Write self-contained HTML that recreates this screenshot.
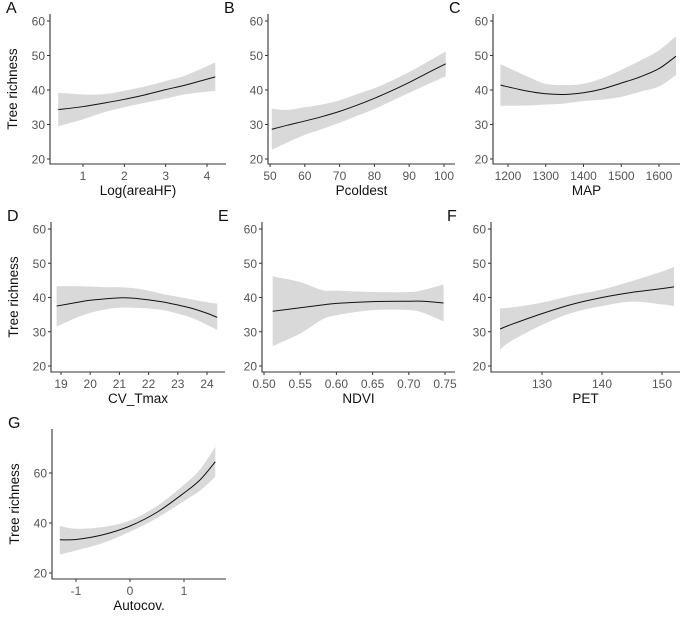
<!DOCTYPE html>
<html><head><meta charset="utf-8"><style>
html,body{margin:0;padding:0;background:#fff;}
svg text{font-family:"Liberation Sans",Arial,sans-serif;}
</style></head><body>
<svg id="fig" width="685" height="615" xmlns="http://www.w3.org/2000/svg"></svg>
<script>
// Panel data
const aX=[0.4,1,1.5,2,2.5,3,3.5,4.2], aY=[34.3,35.2,36.2,37.3,38.6,40.1,41.5,43.8], aLo=[29.5,31.5,33.5,35,36.3,37.5,38.8,39.8], aHi=[39.2,38.7,38.8,39.8,41,42.6,44.3,48];
const bX=[50.5,55,60,65,70,75,80,85,90,95,100.5], bY=[28.6,29.8,31,32.3,33.8,35.6,37.6,39.8,42.2,44.8,47.6], bLo=[22.7,24.8,27,28.7,30.5,32.5,34.5,36.8,39.2,41.5,44], bHi=[34.6,34.2,35,35.8,37,38.8,40.5,42.7,45.2,48,51.2];
const cX=[1180,1250,1300,1350,1400,1450,1500,1550,1600,1645], cY=[41.4,39.7,38.9,38.7,39.2,40.3,42,43.8,46.2,49.8], cLo=[35.4,35.5,35.8,36.1,36.8,37.2,38,39.5,41,44.3], cHi=[47.5,44,41.8,41.4,41.8,43.4,45.8,48.5,51.5,55.6];
const dX=[18.85,19.5,20,20.5,21,21.5,22,22.5,23,23.5,24,24.35], dY=[37.5,38.5,39.2,39.6,39.9,39.8,39.3,38.7,37.8,36.8,35.4,34.2], dLo=[31.5,34,35.5,36.5,37,37,36.8,36.3,35.3,34,32,30.5], dHi=[43.3,43.3,43.2,43,43,42.7,42,41,40.2,39.4,38.6,38.2];
const eX=[0.512,0.55,0.58,0.6,0.65,0.7,0.72,0.748], eY=[36,37,37.8,38.3,38.8,38.9,38.9,38.4], eLo=[25.8,29.5,33.5,34.8,36.3,36.3,35.5,33], eHi=[46.2,44.5,42.2,42,41.6,41.6,42.2,43.8];
const fX=[123,125,130,135,140,145,150,152], fY=[30.8,32.2,35.3,38,40,41.5,42.6,43.1], fLo=[24.8,27.4,32,35.5,37.5,38.8,38,37.5], fHi=[36.8,37.1,38.5,40.6,42.3,44.8,47.6,48.9];
const gX=[-1.3,-1,-0.5,0,0.5,1,1.3,1.58], gY=[33.3,33.4,35.3,38.8,44.3,52,57.3,64.5], gLo=[27.4,29,32,36.5,42,48.8,53,58.5], gHi=[38.8,37.7,38.4,41,46.8,55.3,61.5,70.5];
const aTicks=[1,2,3,4], bTicks=[50,60,70,80,90,100], cTicks=[1200,1300,1400,1500,1600];
const dTicks=[19,20,21,22,23,24], eTicks=[0.5,0.55,0.6,0.65,0.7,0.75], fTicks=[130,140,150], gTicks=[-1,0,1];
const eLabels=["0.50","0.55","0.60","0.65","0.70","0.75"];
const yTicks12=[20,30,40,50,60], yTicksG=[20,40,60];

const NS="http://www.w3.org/2000/svg", svg=document.getElementById('fig');
function mk(tag,attrs,parent){const e=document.createElementNS(NS,tag);for(const k in attrs)e.setAttribute(k,attrs[k]);(parent||svg).appendChild(e);return e;}
function smooth(pts){let d="M"+pts[0][0].toFixed(2)+","+pts[0][1].toFixed(2);
 for(let i=0;i<pts.length-1;i++){const p0=pts[Math.max(0,i-1)],p1=pts[i],p2=pts[i+1],p3=pts[Math.min(pts.length-1,i+2)];
 const c1=[p1[0]+(p2[0]-p0[0])/6,p1[1]+(p2[1]-p0[1])/6],c2=[p2[0]-(p3[0]-p1[0])/6,p2[1]-(p3[1]-p1[1])/6];
 d+=" C"+c1.map(v=>v.toFixed(2))+" "+c2.map(v=>v.toFixed(2))+" "+p2[0].toFixed(2)+","+p2[1].toFixed(2);}return d;}
function smoothCont(pts){return smooth(pts).replace(/^M/,"L");}

function panel(o){
 const g=mk('g',{});
 
 
 const sx=v=>o.px0+(v-o.v0)*(o.px1-o.px0)/(o.v1-o.v0);
 const sy=v=>o.py0+(v-o.y0)*(o.py1-o.py0)/(o.y1-o.y0);
 const up=o.X.map((x,i)=>[sx(x),sy(o.hi[i])]), lo=o.X.map((x,i)=>[sx(x),sy(o.lo[i])]).reverse();
 const band=mk('path',{d:smooth(up)+" "+smoothCont(lo)+" Z",fill:"#d9d9d9",stroke:"none"},g);
 
 
 const line=mk('path',{d:smooth(o.X.map((x,i)=>[sx(x),sy(o.Y[i])])),fill:"none",stroke:"#111",'stroke-width':1},g);
 
 
 const ax=mk('path',{d:`M${o.ax},${o.top} V${o.bot} H${o.axEnd}`,fill:"none",stroke:"#333",'stroke-width':1.1},g);
 
 
 o.yt.forEach(t=>{const y=sy(t);mk('line',{x1:o.ax-3,x2:o.ax,y1:y,y2:y,stroke:"#333"},g);
  const tx=mk('text',{x:o.ax-5,y:y+4.5,'text-anchor':'end','font-size':12,fill:'#555'},g);tx.textContent=t;
  
  });
 o.xt.forEach((t,i)=>{const x=sx(t);mk('line',{x1:x,x2:x,y1:o.bot,y2:o.bot+3,stroke:"#333"},g);
  const tx=mk('text',{x:x,y:o.bot+16,'text-anchor':'middle','font-size':12,fill:'#555'},g);tx.textContent=o.xl?o.xl[i]:t;
  
  });
 const xt=mk('text',{x:(o.ax+o.axEnd)/2,y:o.bot+31,'text-anchor':'middle','font-size':13.5,fill:'#111'},g);xt.textContent=o.title;
 
 
 const lt=mk('text',{x:o.ax-44,y:o.top-1,'font-size':16,fill:'#111'},g);lt.textContent=o.letter;
 
 
 if(o.ylab){const yl=mk('text',{x:0,y:0,transform:`translate(${o.ax-33},${(o.top+o.bot)/2}) rotate(-90)`,'text-anchor':'middle','font-size':13.5,fill:'#111'},g);yl.textContent="Tree richness";
  
  }
}
const r1={top:14,bot:164,py0:159,py1:21,y0:20,y1:60,yt:yTicks12};
const r2={top:222,bot:372,py0:366,py1:229,y0:20,y1:60,yt:yTicks12};
panel(Object.assign({letter:'A',X:aX,Y:aY,lo:aLo,hi:aHi,ax:50,axEnd:226,v0:1,v1:4,px0:83,px1:207,xt:aTicks,title:'Log(areaHF)',ylab:true},r1));
panel(Object.assign({letter:'B',X:bX,Y:bY,lo:bLo,hi:bHi,ax:268,axEnd:455,v0:50,v1:100,px0:270,px1:444,xt:bTicks,title:'Pcoldest'},r1));
panel(Object.assign({letter:'C',X:cX,Y:cY,lo:cLo,hi:cHi,ax:493,axEnd:680,v0:1200,v1:1600,px0:508,px1:659,xt:cTicks,title:'MAP'},r1));
panel(Object.assign({letter:'D',X:dX,Y:dY,lo:dLo,hi:dHi,ax:51,axEnd:225,v0:19,v1:24,px0:61,px1:207,xt:dTicks,title:'CV_Tmax',ylab:true},r2));
panel(Object.assign({letter:'E',X:eX,Y:eY,lo:eLo,hi:eHi,ax:262,axEnd:455,v0:0.5,v1:0.75,px0:264,px1:445,xt:eTicks,xl:eLabels,title:'NDVI'},r2));
panel(Object.assign({letter:'F',X:fX,Y:fY,lo:fLo,hi:fHi,ax:491,axEnd:680,v0:130,v1:150,px0:542,px1:662,xt:fTicks,title:'PET'},r2));
panel({letter:'G',X:gX,Y:gY,lo:gLo,hi:gHi,ax:52,axEnd:226,v0:-1,v1:1,px0:76,px1:184,xt:gTicks,title:'Autocov.',ylab:true,top:429,bot:579,py0:573,py1:473,y0:20,y1:60,yt:yTicksG});
</script>
</body></html>
